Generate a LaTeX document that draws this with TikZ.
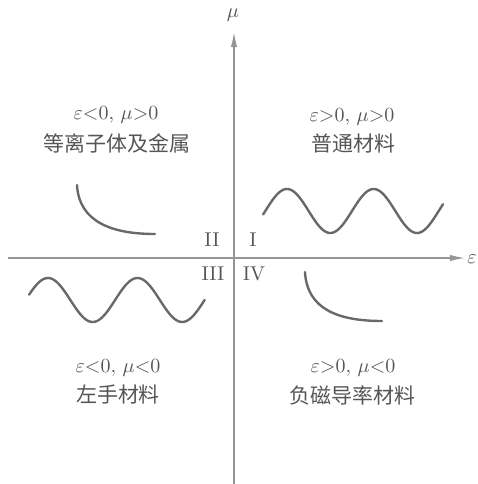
\documentclass[tikz,border=0pt]{standalone}
\usepackage{fontspec}
\newfontfamily\cjk{Noto Sans CJK SC}
\usepackage{tikz}
\usetikzlibrary{arrows.meta, positioning}
\usepackage{xcolor}
\definecolor{axisgray}{RGB}{150, 150, 150}
\definecolor{curvegray}{RGB}{105, 105, 105}
\definecolor{inkgray}{RGB}{85, 85, 85}

\begin{document}
\begin{tikzpicture}[
      x=0.5pt, y=-0.5pt,
      every node/.style={text=inkgray, inner sep=0pt},
      cond/.style={font=\fontsize{10}{12}\selectfont},
      mat/.style={font=\cjk\fontsize{10.5}{12}\selectfont},
      quad/.style={font=\fontsize{10}{12}\selectfont},
      axis/.style={draw=axisgray, line width=0.7pt},
      arrow/.style={axis, -{Latex[length=7.5pt, width=3.2pt]}},
      curve/.style={draw=curvegray, line width=1.2pt, line cap=round}
    ]
    \useasboundingbox (0,0) rectangle (478,484);

    % axes
    \coordinate (xs) at (8,258);
    \coordinate (xe) at (465,258);
    \coordinate (ys) at (234,484);
    \coordinate (ye) at (234,32);
    \node[cond] (eps) at (472,259) {$\varepsilon$};
    \node[cond] (mu)  at (233,15)  {$\mu$};
    \draw[arrow] (xs) -- (xe);
    \draw[arrow] (ys) -- (ye);

    % quadrant numbers
    \node[quad] (q1) at (253,240) {I};
    \node[quad] (q2) at (212,240) {II};
    \node[quad] (q3) at (213,274) {III};
    \node[quad] (q4) at (254,274) {IV};

    % labels
    \node[cond] (c1) at (352,117) {$\varepsilon{>}0,\,\mu{>}0$};
    \node[mat]  (m1) at (354,143) {普通材料};
    \node[cond] (c2) at (116,115) {$\varepsilon{<}0,\,\mu{>}0$};
    \node[mat]  (m2) at (117,143) {等离子体及金属};
    \node[cond] (c3) at (118,368) {$\varepsilon{<}0,\,\mu{<}0$};
    \node[mat]  (m3) at (118,395) {左手材料};
    \node[cond] (c4) at (353,368) {$\varepsilon{>}0,\,\mu{<}0$};
    \node[mat]  (m4) at (353,395) {负磁导率材料};

    % curves
    \draw[curve] plot[domain=-9:738, samples=120, smooth]
          ({265.3+\x/360*86.7}, {211-22*sin(\x)});
    \draw[curve] plot[domain=14:720, samples=120, smooth]
          ({25.6+\x/360*89.5}, {300-22*sin(\x)});
    \draw[curve] (77,185) .. controls (79,222) and (112,234) .. (155,234);
    \draw[curve] (305,272) .. controls (307,309) and (338,321) .. (382,321);
  \end{tikzpicture}
\end{document}
